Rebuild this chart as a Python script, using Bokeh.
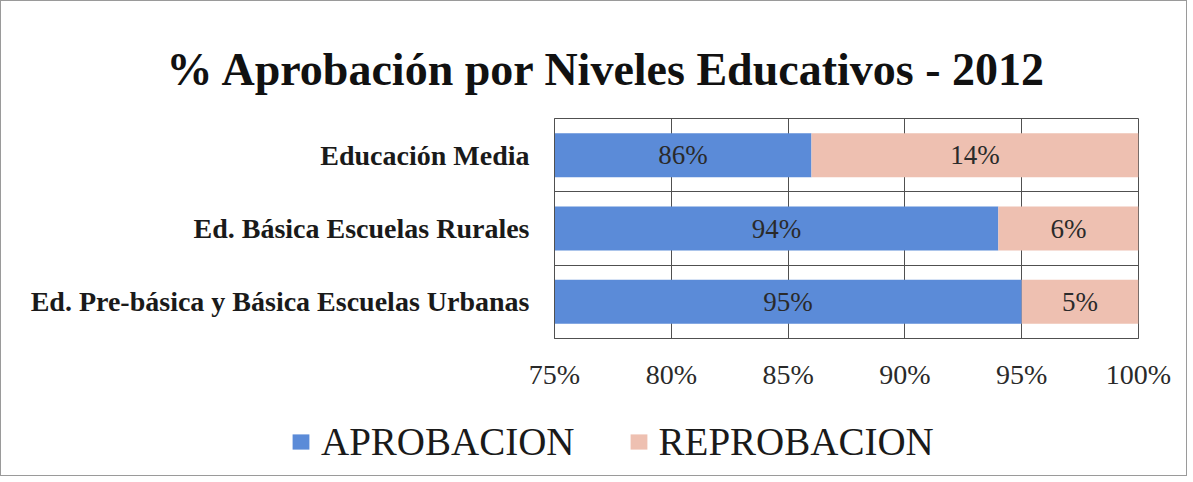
from bokeh.plotting import figure
from bokeh.layouts import column
from bokeh.models import ColumnDataSource, FixedTicker, Legend, LegendItem, Range1d
from bokeh.core.properties import value
from bokeh.embed import file_html
from bokeh.resources import INLINE

categories = ["Ed. Pre-básica y Básica Escuelas Urbanas", "Ed. Básica Escuelas Rurales", "Educación Media"]
aprobacion = [95, 94, 86]
reprobacion = [5, 6, 14]
x_ticks = [75, 80, 85, 90, 95, 100]
x_tick_labels = ["75%", "80%", "85%", "90%", "95%", "100%"]
title_text = "% Aprobación por Niveles Educativos - 2012"
series_names = ["APROBACION", "REPROBACION"]

X_MIN, X_MAX = 75, 100
BLUE = "#5B8BD8"
PINK = "#EEC0B1"
SERIF = "Liberation Serif"
W = 1185

ys = [i + 0.5 for i in range(len(categories))]
src = ColumnDataSource(dict(
    y=ys,
    base=[X_MIN] * len(categories),
    ap=aprobacion,
    tot=[a + r for a, r in zip(aprobacion, reprobacion)],
    ap_mid=[(X_MIN + a) / 2 for a in aprobacion],
    rp_mid=[a + r / 2 for a, r in zip(aprobacion, reprobacion)],
    ap_lbl=[f"{a}%" for a in aprobacion],
    rp_lbl=[f"{r}%" for r in reprobacion],
))

p = figure(width=W, height=405, output_backend="svg", toolbar_location=None,
           x_range=Range1d(X_MIN, X_MAX), y_range=Range1d(0, len(categories)),
           min_border_left=553, min_border_right=48, min_border_top=117, min_border_bottom=68)
p.frame_align = False
p.background_fill_color = "white"
p.border_fill_color = "white"
p.outline_line_color = "#505050"
p.outline_line_width = 1

p.hbar(y="y", left="base", right="ap", height=0.6, source=src, fill_color=BLUE, line_color=None)
p.hbar(y="y", left="ap", right="tot", height=0.6, source=src, fill_color=PINK, line_color=None)

p.text(x="ap_mid", y="y", text="ap_lbl", source=src, text_align="center", text_baseline="middle",
       text_font=value(SERIF), text_font_size="27px", text_color="#2a2a2a")
p.text(x="rp_mid", y="y", text="rp_lbl", source=src, text_align="center", text_baseline="middle",
       text_font=value(SERIF), text_font_size="27px", text_color="#2a2a2a")

# title
p.title.text = title_text
p.title.align = "left"
p.title.offset = -388
p.title.text_font = SERIF
p.title.text_font_style = "bold"
p.title.text_font_size = "46px"
p.title.text_color = "#111111"
p.title.standoff = 48

# axes
p.xaxis.ticker = FixedTicker(ticks=x_ticks)
p.xaxis.major_label_overrides = {t: l for t, l in zip(x_ticks, x_tick_labels)}
p.xaxis.major_label_text_font = SERIF
p.xaxis.major_label_text_font_size = "28px"
p.xaxis.major_label_text_color = "#2a2a2a"
p.xaxis.major_label_standoff = 14
p.xaxis.major_tick_line_color = None
p.xaxis.minor_tick_line_color = None
p.xaxis.axis_line_color = "#505050"

p.yaxis.ticker = FixedTicker(ticks=ys)
p.yaxis.major_label_overrides = {y: c for y, c in zip(ys, categories)}
p.yaxis.major_label_text_font = SERIF
p.yaxis.major_label_text_font_style = "bold"
p.yaxis.major_label_text_font_size = "28px"
p.yaxis.major_label_text_color = "#1a1a1a"
p.yaxis.major_label_standoff = 19
p.yaxis.major_tick_line_color = None
p.yaxis.minor_tick_line_color = None
p.yaxis.axis_line_color = "#505050"

p.xgrid.ticker = FixedTicker(ticks=x_ticks[1:-1])
p.xgrid.grid_line_color = "#505050"
p.ygrid.ticker = FixedTicker(ticks=list(range(1, len(categories))))
p.ygrid.grid_line_color = "#505050"
p.xgrid.level = "underlay"
p.ygrid.level = "underlay"

# legend strip below the chart (bars fall outside its view; only the legend shows)
lp = figure(width=W, height=69, output_backend="svg", toolbar_location=None,
            x_axis_type=None, y_axis_type=None, min_border=0,
            x_range=Range1d(0, 1), y_range=Range1d(0, 1))
lp.frame_align = False
lp.outline_line_color = None
lp.background_fill_color = "white"
lp.border_fill_color = "white"
l1 = lp.hbar(y="y", left="base", right="ap", height=0.6, source=src, fill_color=BLUE, line_color=None)
l2 = lp.hbar(y="y", left="ap", right="tot", height=0.6, source=src, fill_color=PINK, line_color=None)
legend = Legend(items=[LegendItem(label=series_names[0], renderers=[l1]),
                       LegendItem(label=series_names[1], renderers=[l2])],
                orientation="horizontal", location=(289, 11),
                label_text_font=SERIF, label_text_font_size="39px", label_text_color="#1a1a1a",
                glyph_width=21, glyph_height=19, label_standoff=10, spacing=53,
                padding=0, margin=0, border_line_color=None, background_fill_alpha=0)
lp.add_layout(legend, "center")

layout = column(p, lp, spacing=0)
layout.styles = {"border": "1px solid #9a9a9a"}

open("out.html", "w").write(file_html(layout, INLINE))
